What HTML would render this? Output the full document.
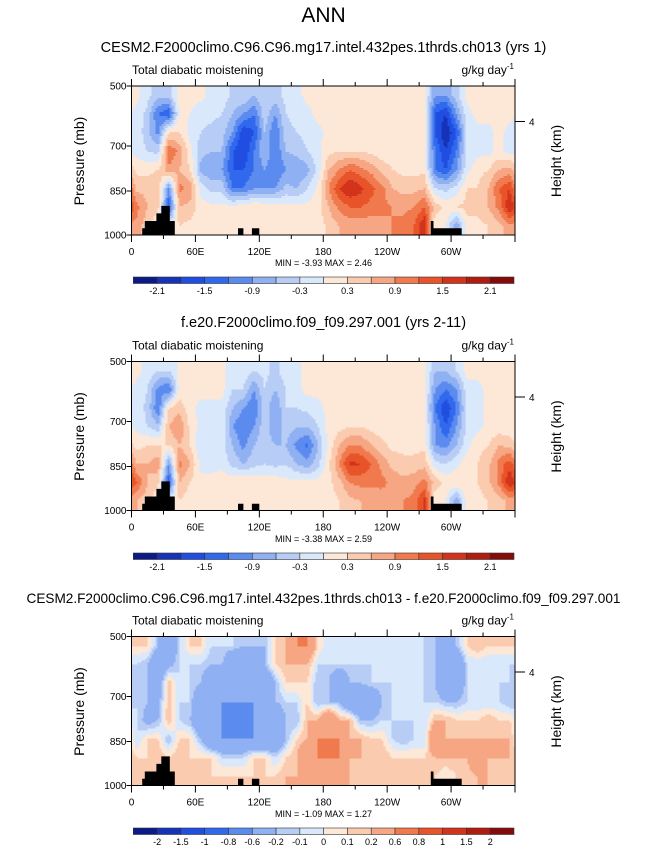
<!DOCTYPE html>
<html><head><meta charset="utf-8">
<style>
body{margin:0;background:#fff;font-family:"Liberation Sans",sans-serif;}
#wrap{position:relative;width:647px;height:851px;overflow:hidden;}
svg text{font-family:"Liberation Sans",sans-serif;}
</style></head>
<body>
<div id="wrap">
<svg id="fig" width="647" height="851" viewBox="0 0 647 851" xmlns="http://www.w3.org/2000/svg">
<text x="323.5" y="22" font-size="21" text-anchor="middle">ANN</text>
</svg>
</div>
<script>
const lonTicks=[0,60,120,180,240,300];
const lonLabels=["0","60E","120E","180","120W","60W"];
const presTicks=[500,700,850,1000];
const presFrac=[0,60/149,105/149,1];
const levels12=[-2.1,-1.8,-1.5,-1.2,-0.9,-0.6,-0.3,0,0.3,0.6,0.9,1.2,1.5,1.8,2.1];
const labels12=["-2.1","","-1.5","","-0.9","","-0.3","","0.3","","0.9","","1.5","","2.1"];
const levels3=[-2,-1.5,-1,-0.8,-0.6,-0.2,-0.1,0,0.1,0.2,0.6,0.8,1,1.5,2];
const labels3=["-2","-1.5","-1","-0.8","-0.6","-0.2","-0.1","0","0.1","0.2","0.6","0.8","1","1.5","2"];
const palette=["#0b1a87","#1532b8","#1f4ee0","#3069ee","#5b8bef","#8fb0f2","#b8cdf6","#dae8fb","#fde7d6","#fbcbb0","#f7a684","#f07a4e","#e9532a","#d3331a","#b01d10","#860a0a"];
// topography: [lon, fraction of height from bottom]
const topoLon=[10,10,12.5,12.5,23.4,23.4,28,28,36,36,40.6,40.6, 100,100,105,105, 113,113,120,120, 281,281,283.5,283.5,310,310];
const topoH=[0,0.045,0.045,0.094,0.094,0.145,0.145,0.195,0.195,0.094,0.094,0, 0,0.045,0.045,0, 0,0.045,0.045,0, 0,0.094,0.094,0.045,0.045,0];
// fields: per 10-degree column, 8 rows from 500mb (top) to 1000mb (bottom)
const field1=[
[0.1,-0.1,-0.1,-0.1,0.2,0.5,1.0,0.8],[-0.2,-0.4,-0.5,-0.3,0.2,0.5,0.6,0.4],[-0.5,-1.2,-1.0,-0.4,0.3,0.6,0.4,0],[-0.4,-1.5,0.3,1.2,0.8,-1.0,-1.5,0],
[0.1,0.1,0.3,0.8,0.6,1.0,0.6,0.3],[0.1,0,-0.1,0.1,0.3,0.8,0.5,0.2],[0.1,-0.2,-0.3,-0.5,-0.7,-0.1,0.1,0.2],[-0.1,-0.2,-0.4,-0.6,-0.9,-0.4,0.1,0.1],
[-0.1,-0.3,-0.5,-0.6,-0.9,-0.4,0.1,0.1],[-0.4,-0.6,-0.9,-1.5,-1.5,-1.2,0.1,0.1],[-0.3,-0.9,-1.8,-1.8,-1.5,-1.2,0.2,0.1],[-0.6,-1.2,-1.5,-1.2,-1.2,-0.9,0.3,0.2],
[-0.3,-0.4,-0.6,-0.6,-0.9,-0.9,0.2,0.1],[-0.4,-0.9,-1.2,-1.2,-1.2,-0.9,0.2,0.1],[-0.2,-0.3,-0.4,-0.6,-0.9,-0.5,0.1,0.1],[-0.1,-0.2,-0.3,-0.5,-0.9,-0.6,0.1,0.1],
[0.1,-0.1,-0.2,-0.3,-0.7,-0.3,0.1,0.1],[0.1,0.1,-0.1,-0.1,-0.2,0.1,0.2,0.1],[0.1,0.1,0.1,0.2,0.6,0.9,0.6,0.4],[0.1,0.1,0.1,0.3,0.9,1.5,1.0,0.6],
[0.1,0.1,0.1,0.3,1.2,1.8,1.2,0.7],[0.1,0.1,0.1,0.3,1.0,1.6,1.2,0.7],[0.1,0.1,0.1,0.2,0.8,1.3,1.1,0.7],[0.1,0.1,0.1,0.1,0.5,1.0,1.0,0.8],
[0.1,0.1,0.1,0.1,0.3,0.6,0.9,0.9],[0.1,0.1,0.1,0.1,0.2,0.5,0.8,1.0],[0.1,0.1,0.1,0.1,0.2,0.5,0.9,1.2],[0.1,0.1,0.1,0.1,0.2,0.6,1.2,1.8],
[-0.9,-1.5,-1.5,-1.2,-1.2,-0.3,0.5,0],[-0.9,-1.8,-2.1,-1.8,-1.5,-0.4,0.2,0],[-0.4,-0.9,-1.5,-1.2,-0.9,-0.2,0.3,-0.9],[0.1,-0.1,-0.2,-0.2,-0.1,0.3,0.4,0.2],
[0.1,0.1,-0.1,-0.1,0.2,0.3,0.4,0.2],[0.1,0.1,-0.1,-0.1,0.3,0.6,0.6,0.3],[0.1,0.1,0.1,0.1,0.6,1.2,1.0,0.5],[0.1,0.1,-0.1,-0.1,0.7,1.5,1.8,0.8]];
const field2=[
[0.1,-0.1,-0.1,-0.1,0.2,0.6,1.2,0.6],[-0.1,-0.3,-0.4,-0.3,0.3,0.6,0.6,0.4],[-0.3,-1.0,-1.2,-0.5,0.3,0.8,0.4,0],[-0.3,-1.2,0.3,0.6,0.3,-0.9,-1.5,0],
[0.1,0.1,0.5,0.9,0.6,1.0,0.6,0.3],[0.1,0.1,0.1,0.2,0.3,0.6,0.3,0.1],[0.1,0.1,-0.1,-0.1,-0.3,-0.1,0.1,0.1],[0.1,0.1,-0.1,-0.1,-0.3,-0.1,0.1,0.1],
[0.1,0.1,-0.1,-0.1,-0.2,-0.1,0.2,0.1],[-0.2,-0.3,-0.6,-0.9,-0.6,-0.4,0.2,0.1],[-0.1,-0.3,-0.9,-1.2,-1.0,-0.6,0.3,0.1],[-0.3,-0.9,-1.2,-0.9,-0.6,-0.4,0.2,0.2],
[-0.2,-0.3,-0.4,-0.4,-0.4,-0.3,0.2,0.1],[-0.4,-0.6,-0.9,-0.9,-0.6,-0.4,0.2,0.1],[-0.1,-0.3,-0.3,-0.4,-0.6,-0.3,0.1,0.1],[-0.1,-0.1,-0.3,-0.6,-1.0,-0.6,0.1,0.1],
[0.1,0.1,-0.2,-0.6,-1.3,-0.8,0.1,0.1],[0.1,0.1,-0.1,-0.3,-0.6,-0.4,0.1,0.1],[0.1,0.1,0.1,0.1,0.1,0.2,0.2,0.1],[0.1,0.1,0.1,0.2,0.6,0.9,0.5,0.3],
[0.1,0.1,0.1,0.3,0.9,1.6,0.9,0.5],[0.1,0.1,0.1,0.3,0.9,1.5,1.0,0.6],[0.1,0.1,0.1,0.2,0.6,1.2,1.0,0.6],[0.1,0.1,0.1,0.1,0.4,0.8,1.0,0.7],
[0.1,0.1,0.1,0.1,0.2,0.5,0.8,0.8],[0.1,0.1,0.1,0.1,0.2,0.4,0.7,0.9],[0.1,0.1,0.1,0.1,0.2,0.4,0.8,1.0],[0.1,0.1,0.1,0.1,0.2,0.5,1.0,1.6],
[-0.6,-0.9,-1.2,-0.9,-0.9,-0.2,0.5,0],[-0.6,-1.2,-1.8,-1.5,-1.0,-0.3,0.2,0],[-0.3,-0.9,-1.2,-0.9,-0.6,-0.1,0.3,-0.9],[0.1,-0.1,-0.2,-0.2,-0.1,0.2,0.3,0.2],
[0.1,-0.1,-0.1,-0.1,0.2,0.3,0.3,0.2],[0.1,0.1,0.1,0.1,0.3,0.5,0.5,0.3],[0.1,0.1,0.1,0.1,0.6,1.0,1.0,0.4],[0.1,0.1,0.1,0.1,0.5,1.4,1.8,0.7]];
const field3=[
[0.1,-0.1,-0.2,-0.1,-0.1,-0.1,0.1,0.1],[0.1,-0.2,-0.2,-0.2,-0.3,0.1,0.1,0.1],[-0.2,-0.6,-0.4,-0.3,-0.2,0.1,0.2,0.1],[-0.6,-0.3,0.2,0.2,0.2,-0.2,0.1,0.1],
[-0.1,-0.1,-0.1,-0.1,-0.1,0.1,0.2,0.1],[0.1,-0.1,-0.1,-0.1,-0.2,0.1,0.1,0.1],[0.1,-0.1,-0.2,-0.6,-0.6,-0.2,0.1,0.1],[-0.1,-0.2,-0.6,-0.6,-0.6,-0.6,0.1,0.1],
[-0.1,-0.2,-0.3,-0.6,-0.6,-0.6,-0.1,0.1],[-0.1,-0.6,-0.6,-0.6,-0.8,-0.6,-0.1,0.1],[-0.2,-0.6,-0.6,-0.6,-0.8,-0.6,-0.1,0.1],[-0.2,-0.6,-0.6,-0.6,-0.6,-0.6,0.1,0.1],
[-0.2,-0.2,-0.6,-0.6,-0.6,-0.6,0.1,0.1],[0.1,0.1,-0.2,-0.2,-0.6,-0.6,-0.1,0.1],[0.2,0.2,0.1,-0.1,-0.2,-0.2,0.1,0.2],[0.6,0.2,0.1,-0.1,-0.2,0.1,0.2,0.2],
[0.6,0.2,0.1,0.1,0.2,0.2,0.6,0.2],[0.1,-0.1,-0.2,-0.2,0.2,0.6,0.6,0.2],[-0.1,-0.1,-0.2,-0.2,0.6,0.6,0.6,0.2],[-0.1,-0.1,-0.6,-0.2,0.2,0.6,0.6,0.2],
[-0.1,-0.1,-0.2,-0.6,0.2,0.2,0.2,0.2],[-0.1,-0.1,-0.2,-0.6,-0.2,0.2,0.2,0.1],[-0.1,-0.1,-0.1,-0.6,-0.2,0.1,0.2,0.1],[-0.1,-0.1,-0.1,-0.2,-0.1,0.1,0.2,0.1],
[-0.1,-0.1,-0.1,-0.1,-0.1,-0.1,0.1,0.1],[-0.1,-0.1,-0.1,-0.1,-0.1,-0.2,0.1,0.1],[-0.1,-0.1,-0.1,-0.1,-0.1,-0.1,0.1,0.1],[-0.1,-0.1,-0.1,-0.1,-0.1,-0.1,0.1,0.1],
[-0.2,-0.2,-0.2,-0.1,0.2,0.6,0.2,0.1],[-0.6,-0.6,-0.6,-0.2,0.2,0.2,0.2,0],[-0.2,-0.6,-0.6,-0.2,0.1,0.2,0.2,0.1],[0.1,-0.1,-0.1,-0.1,0.1,0.2,0.2,0.1],
[0.2,-0.1,-0.1,-0.1,0.1,0.2,0.6,0.2],[0.1,-0.1,-0.1,-0.1,0.2,0.2,0.2,0.2],[0.1,-0.1,-0.1,-0.1,0.1,0.2,0.2,0.1],[0.1,-0.1,-0.1,-0.2,0.1,0.2,0.2,0.1]];

const panels=[
 {title:"CESM2.F2000climo.C96.C96.mg17.intel.432pes.1thrds.ch013 (yrs 1)",ty:52,tfs:14.5,top:86,cb:277,mm:"MIN = -3.93  MAX =  2.46",field:field1,levels:levels12,labels:labels12,id:"top"},
 {title:"f.e20.F2000climo.f09_f09.297.001 (yrs 2-11)",ty:327,tfs:14.5,top:361.5,cb:553,mm:"MIN = -3.38  MAX =  2.59",field:field2,levels:levels12,labels:labels12,id:"middle"},
 {title:"CESM2.F2000climo.C96.C96.mg17.intel.432pes.1thrds.ch013 - f.e20.F2000climo.f09_f09.297.001",ty:603,tfs:13.6,top:636.5,cb:828,mm:"MIN = -1.09  MAX =  1.27",field:field3,levels:levels3,labels:labels3,id:"diff"}
];
const X0=131.5,X1=515,H=149;
const svg=document.getElementById('fig');
const NS="http://www.w3.org/2000/svg";
function mk(tag,attrs,parent){const e=document.createElementNS(NS,tag);for(const k in attrs)e.setAttribute(k,attrs[k]);(parent||svg).appendChild(e);return e;}
function xs(lon){return X0+(lon/360)*(X1-X0);}
function colorFor(v,lv){let i=0;while(i<lv.length&&v>=lv[i])i++;return palette[i];}

panels.forEach(p=>{
 const g=mk('g',{});
 
 
 const t=mk('text',{x:323.5,y:p.ty,'font-size':p.tfs,'text-anchor':'middle'},g);t.textContent=p.title;
 
 const ys=f=>p.top+f*H;
 // contour field (bilinear, quantized)
 const fg=mk('g',{'shape-rendering':'crispEdges'},g);
 
 const nc=p.field.length,nr=p.field[0].length;
 const step=2;
 const W=X1-X0;
 for(let py=0;py<H;py+=step){
  const fy=Math.min(Math.max((py+step/2)/H*nr-0.5,0),nr-1);
  const r0=Math.floor(fy),r1=Math.min(r0+1,nr-1),ty=fy-r0;
  let runStart=0,runCol=null;
  const hh=Math.min(step,H-py);
  for(let px=0;px<W;px+=step){
   const fx=(px+step/2)/W*nc-0.5;
   let c0=Math.floor(fx),tx=fx-c0;let c1=c0+1;
   c0=(c0+nc)%nc;c1=c1%nc;
   const v=(p.field[c0][r0]*(1-tx)+p.field[c1][r0]*tx)*(1-ty)+(p.field[c0][r1]*(1-tx)+p.field[c1][r1]*tx)*ty;
   const col=colorFor(v,p.levels);
   if(col!==runCol){
    if(runCol!==null){mk('rect',{x:X0+runStart,y:p.top+py,width:px-runStart,height:hh,fill:runCol},fg);}
    runStart=px;runCol=col;
   }
  }
  mk('rect',{x:X0+runStart,y:p.top+py,width:W-runStart,height:hh,fill:runCol},fg);
 }
 // topography
 let pts=topoLon.map((l,i)=>xs(l).toFixed(1)+","+ys(1-topoH[i]).toFixed(1)).join(" ");
 const tp=mk('polygon',{points:pts,fill:'#000'},g);
 
 // frame
 const fr=mk('rect',{x:X0,y:p.top,width:X1-X0,height:H,fill:'none',stroke:'#000','stroke-width':1},g);
 
 // x ticks
 for(let l=0;l<=360;l+=30){
  const len=l%60===0?7:4;
  mk('line',{x1:xs(l),x2:xs(l),y1:p.top+H,y2:p.top+H+len,stroke:'#000'},g);
  mk('line',{x1:xs(l),x2:xs(l),y1:p.top,y2:p.top-len,stroke:'#000'},g);
 }
 lonTicks.forEach((l,i)=>{const tt=mk('text',{x:xs(l),y:p.top+H+20,'font-size':10,'text-anchor':'middle'},g);tt.textContent=lonLabels[i];
  });
 presTicks.forEach((pv,i)=>{const yy=ys(presFrac[i]);
  mk('line',{x1:X0-5,x2:X0,y1:yy,y2:yy,stroke:'#000'},g);
  const tt=mk('text',{x:X0-5,y:yy+3.5,'font-size':10,'text-anchor':'end'},g);tt.textContent=pv;
  });
 mk('line',{x1:X1,x2:X1+10,y1:p.top+35.5,y2:p.top+35.5,stroke:'#000'},g);
 const h4=mk('text',{x:529,y:p.top+39.5,'font-size':10},g);h4.textContent="4";
 const yl=mk('text',{transform:`translate(84 ${p.top+75}) rotate(-90)`,'font-size':14,'text-anchor':'middle'},g);yl.textContent="Pressure (mb)";
 
 const yr=mk('text',{transform:`translate(561 ${p.top+75}) rotate(-90)`,'font-size':14,'text-anchor':'middle'},g);yr.textContent="Height (km)";
 
 const lt=mk('text',{x:132,y:p.top-12,'font-size':12},g);lt.textContent="Total diabatic moistening";
 
 const ut=mk('text',{x:514,y:p.top-12,'font-size':12,'text-anchor':'end'},g);ut.innerHTML='g/kg day<tspan dy="-5" font-size="8">-1</tspan>';
 
 const mm=mk('text',{x:323.5,y:p.cb-11,'font-size':9,'text-anchor':'middle'},g);mm.textContent=p.mm;
 
 // colorbar
 const cg=mk('g',{},g);
 
 const cx0=133.3,cx1=514,bw=(cx1-cx0)/16;
 palette.forEach((c,i)=>{const r=mk('rect',{x:cx0+i*bw,y:p.cb,width:bw,height:6.5,fill:c,stroke:'#333','stroke-width':0.6},cg);
  });
 p.labels.forEach((lb,i)=>{if(!lb)return;const tt=mk('text',{x:cx0+(i+1)*bw,y:p.cb+17,'font-size':9,'text-anchor':'middle'},cg);tt.textContent=lb;
  });
});
</script>
</body></html>
